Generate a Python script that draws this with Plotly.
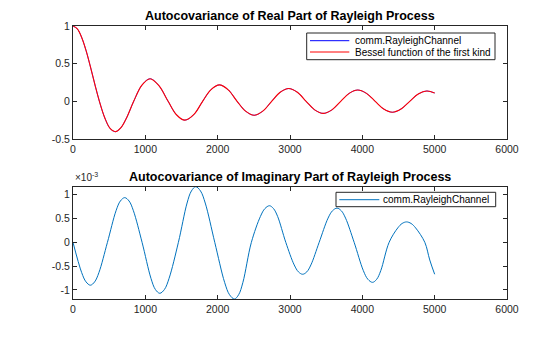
import plotly.graph_objects as go
from plotly.subplots import make_subplots

# ---- data ----
real_lag = [0, 60, 120, 180, 250, 310, 365, 440, 515, 586, 660, 740, 839, 953, 1066, 1190,
            1315, 1430, 1546, 1669, 1792, 1908, 2024, 2146, 2269, 2386, 2503, 2624, 2746,
            2864, 2982, 3102, 3223, 3341, 3459, 3580, 3701, 3818, 3936, 4057, 4178, 4296,
            4415, 4535, 4655, 4773, 4892, 5000]
bessel_vals = [1.0, 0.961, 0.848, 0.676, 0.425, 0.196, 0.0, -0.221, -0.363, -0.403, -0.353,
               -0.220, 0.0, 0.215, 0.300, 0.205, 0.0, -0.178, -0.250, -0.177, 0.0, 0.155,
               0.218, 0.153, 0.0, -0.130, -0.185, -0.130, 0.0, 0.120, 0.170, 0.120, 0.0,
               -0.113, -0.160, -0.113, 0.0, 0.106, 0.150, 0.106, 0.0, -0.102, -0.145,
               -0.102, 0.0, 0.097, 0.137, 0.110]
channel_real_vals = [1.0, 0.961, 0.848, 0.676, 0.425, 0.196, 0.0, -0.221, -0.363, -0.403,
                     -0.353, -0.220, 0.0, 0.215, 0.300, 0.205, 0.0, -0.178, -0.250, -0.177,
                     0.0, 0.155, 0.218, 0.153, 0.0, -0.130, -0.185, -0.130, 0.0, 0.120, 0.170,
                     0.120, 0.0, -0.113, -0.160, -0.113, 0.0, 0.106, 0.150, 0.106, 0.0,
                     -0.102, -0.145, -0.102, 0.0, 0.097, 0.137, 0.110]

imag_lag = [0, 120, 180, 240, 299, 358, 476,
            595, 655, 715, 775, 835, 955,
            1078, 1139, 1200, 1264, 1328, 1457,
            1577, 1637, 1697, 1763, 1828, 1960,
            2096, 2164, 2232, 2290, 2349, 2466,
            2591, 2653, 2716, 2772, 2829, 2942,
            3058, 3117, 3175, 3232, 3289, 3403,
            3526, 3588, 3650, 3709, 3768, 3887,
            4014, 4077, 4141, 4198, 4255, 4370,
            4490, 4550, 4611, 4674, 4737, 4864,
            4932, 5000]
imag_vals_e3 = [0.0, -0.636, -0.83, -0.90, -0.83, -0.636, 0.0,
                0.665, 0.87, 0.94, 0.87, 0.665, 0.0,
                -0.757, -0.99, -1.07, -0.99, -0.757, 0.0,
                0.827, 1.08, 1.17, 1.08, 0.827, 0.0,
                -0.84, -1.10, -1.19, -1.10, -0.84, 0.0,
                0.545, 0.71, 0.77, 0.71, 0.545, 0.0,
                -0.474, -0.62, -0.67, -0.62, -0.474, 0.0,
                0.51, 0.665, 0.72, 0.665, 0.51, 0.0,
                -0.594, -0.776, -0.84, -0.776, -0.594, 0.0,
                0.304, 0.397, 0.43, 0.397, 0.304, 0.0,
                -0.37, -0.67]

x_ticks = [0, 1000, 2000, 3000, 4000, 5000, 6000]
top_y_ticks = [-0.5, 0, 0.5, 1]
top_y_text = ["-0.5", "0", "0.5", "1"]
bot_y_ticks = [-1, -0.5, 0, 0.5, 1]
bot_y_text = ["-1", "-0.5", "0", "0.5", "1"]

top_legend_names = ["comm.RayleighChannel", "Bessel function of the first kind"]
bot_legend_names = ["comm.RayleighChannel"]

AX = "#262626"
FONT = "Liberation Sans, Arial, sans-serif"
BLUE, RED, MBLUE = "#0000FF", "#FF0000", "#0072BD"

# plot-area geometry (pixels) used to place the hand-drawn legends
L, R, T, B = 73, 507, 26, 299
def px(xp):
    return (xp - L) / (R - L)
def py(yp):
    return (B - yp) / (B - T)

fig = make_subplots(rows=2, cols=1)

fig.add_trace(go.Scatter(x=real_lag, y=channel_real_vals, mode="lines",
                         line=dict(color=BLUE, width=0.7, shape="spline"),
                         name=top_legend_names[0]), row=1, col=1)
fig.add_trace(go.Scatter(x=real_lag, y=bessel_vals, mode="lines",
                         line=dict(color=RED, width=1.1, shape="spline"),
                         name=top_legend_names[1]), row=1, col=1)
fig.add_trace(go.Scatter(x=imag_lag, y=imag_vals_e3, mode="lines",
                         line=dict(color=MBLUE, width=1, shape="spline"),
                         name=bot_legend_names[0]), row=2, col=1)

axis_common = dict(showline=True, linecolor=AX, linewidth=1, mirror="ticks",
                   ticks="inside", ticklen=4, tickcolor=AX, showgrid=False,
                   zeroline=False, tickfont=dict(size=10.5, color=AX, family=FONT))

fig.update_xaxes(range=[0, 6000], tickvals=x_ticks, **axis_common)
fig.update_yaxes(**axis_common)
fig.update_yaxes(range=[-0.5, 1], tickvals=top_y_ticks, ticktext=top_y_text, row=1, col=1)
fig.update_yaxes(range=[-1.19, 1.17], tickvals=bot_y_ticks, ticktext=bot_y_text, row=2, col=1)

shapes = []
annotations = []

# top legend
shapes.append(dict(type="rect", xref="paper", yref="paper", x0=px(306.7), x1=px(495),
                   y0=py(59.7), y1=py(33), line=dict(color=AX, width=1), fillcolor="white",
                   layer="above"))
for name, col, yp in zip(top_legend_names, [BLUE, RED], [40.7, 52.0]):
    shapes.append(dict(type="line", xref="paper", yref="paper", x0=px(310), x1=px(349.3),
                       y0=py(yp), y1=py(yp), line=dict(color=col, width=1), layer="above"))
    annotations.append(dict(text=name, x=px(352.5), y=py(yp), xref="paper", yref="paper",
                            xanchor="left", yanchor="middle", showarrow=False,
                            font=dict(size=10, color="#000", family=FONT)))

# bottom legend
shapes.append(dict(type="rect", xref="paper", yref="paper", x0=px(336), x1=px(495.7),
                   y0=py(206.7), y1=py(192.3), line=dict(color=AX, width=1), fillcolor="white",
                   layer="above"))
shapes.append(dict(type="line", xref="paper", yref="paper", x0=px(339.3), x1=px(379.3),
                   y0=py(199.7), y1=py(199.7), line=dict(color=MBLUE, width=1), layer="above"))
annotations.append(dict(text=bot_legend_names[0], x=px(381), y=py(199.7), xref="paper",
                        yref="paper", xanchor="left", yanchor="middle", showarrow=False,
                        font=dict(size=10, color="#000", family=FONT)))

# titles and exponent label
annotations += [
    dict(text="<b>Autocovariance of Real Part of Rayleigh Process</b>", x=0.5, y=1.0,
         xref="paper", yref="paper", xanchor="center", yanchor="bottom", yshift=1,
         showarrow=False, font=dict(size=12.5, color="#000", family=FONT)),
    dict(text="<b>Autocovariance of Imaginary Part of Rayleigh Process</b>", x=0.5, y=py(186.7),
         xref="paper", yref="paper", xanchor="center", yanchor="bottom", yshift=1,
         showarrow=False, font=dict(size=12.5, color="#000", family=FONT)),
    dict(text="×10<sup>-3</sup>", x=0.0, y=py(186.7), xref="paper", yref="paper",
         xanchor="left", yanchor="bottom", yshift=2, showarrow=False,
         font=dict(size=10, color=AX, family=FONT)),
]

fig.update_layout(
    width=560, height=337,
    margin=dict(l=L, r=560 - R, t=T, b=337 - B),
    paper_bgcolor="white", plot_bgcolor="white",
    font=dict(family=FONT, size=10, color=AX),
    xaxis=dict(domain=[0, 1]), yaxis=dict(domain=[py(139), 1.0]),
    xaxis2=dict(domain=[0, 1]), yaxis2=dict(domain=[0.0, py(186.7)]),
    showlegend=False,
    shapes=shapes,
    annotations=annotations,
)

fig.write_html("out.html")
